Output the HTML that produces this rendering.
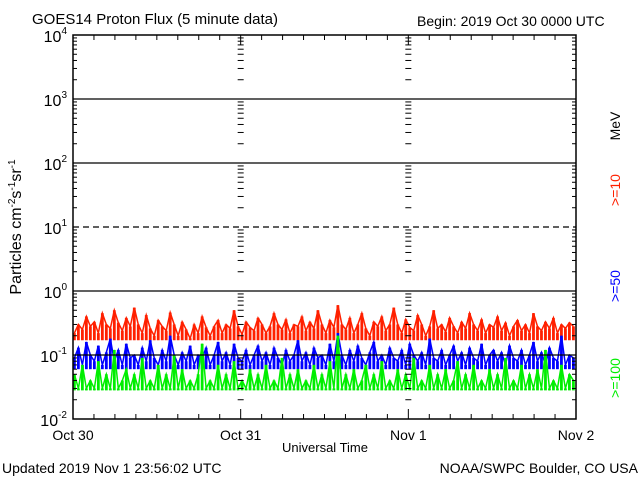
<!DOCTYPE html>
<html><head><meta charset="utf-8"><style>
body{margin:0;background:#fff;width:640px;height:480px;overflow:hidden}
svg text{font-family:"Liberation Sans",sans-serif}
</style></head><body>
<svg id="chart" width="640" height="480" viewBox="0 0 640 480" xmlns="http://www.w3.org/2000/svg">
<rect width="640" height="480" fill="#fff"/>
<text x="32" y="24" font-size="15">GOES14 Proton Flux (5 minute data)</text>
<text x="417" y="26" font-size="14">Begin: 2019 Oct 30 0000 UTC</text>
<text transform="translate(21,227) rotate(-90)" text-anchor="middle" font-size="16">Particles cm<tspan dy="-6" font-size="10">-2</tspan><tspan dy="6">s</tspan><tspan dy="-6" font-size="10">-1</tspan><tspan dy="6">sr</tspan><tspan dy="-6" font-size="10">-1</tspan></text>
<text x="325" y="452" text-anchor="middle" font-size="13">Universal Time</text>
<text x="2" y="473" font-size="14">Updated 2019 Nov  1 23:56:02 UTC</text>
<text x="638" y="473" text-anchor="end" font-size="14">NOAA/SWPC Boulder, CO USA</text>
<text transform="translate(620,126) rotate(-90)" text-anchor="middle" font-size="14">MeV</text>
<text transform="translate(620,190) rotate(-90)" text-anchor="middle" font-size="14" fill="#ff2000">&gt;=10</text>
<text transform="translate(620,286) rotate(-90)" text-anchor="middle" font-size="14" fill="#0000ff">&gt;=50</text>
<text transform="translate(620,378) rotate(-90)" text-anchor="middle" font-size="14" fill="#00ee00">&gt;=100</text>
<g id="grid"></g><g id="series"></g><g id="axes"></g>
</svg>
<script>
const dayLabels=["Oct 30","Oct 31","Nov 1","Nov 2"];
const decadeExps=[-2,-1,0,1,2,3,4];
const seriesFloors=[0.17,0.06,0.028];
const red=[0.22,0.3,0.25,0.4,0.28,0.33,0.22,0.45,0.3,0.26,0.5,0.32,0.24,0.38,0.28,0.55,0.3,0.22,0.42,0.26,0.2,0.35,0.28,0.24,0.46,0.3,0.2,0.33,0.25,0.18,0.3,0.22,0.4,0.27,0.2,0.28,0.35,0.22,0.3,0.26,0.5,0.28,0.21,0.33,0.27,0.24,0.38,0.3,0.22,0.28,0.45,0.3,0.25,0.36,0.22,0.3,0.28,0.4,0.24,0.33,0.26,0.5,0.3,0.22,0.35,0.27,0.6,0.3,0.25,0.38,0.22,0.3,0.45,0.26,0.2,0.33,0.28,0.4,0.24,0.3,0.55,0.3,0.22,0.36,0.27,0.24,0.42,0.3,0.2,0.28,0.5,0.26,0.3,0.23,0.38,0.28,0.22,0.33,0.26,0.45,0.3,0.24,0.36,0.22,0.3,0.27,0.4,0.24,0.32,0.2,0.28,0.35,0.24,0.3,0.22,0.45,0.28,0.24,0.33,0.26,0.38,0.22,0.3,0.26,0.32,0.28];
const blue=[0.09,0.13,0.07,0.16,0.1,0.08,0.14,0.07,0.11,0.18,0.08,0.12,0.07,0.15,0.09,0.1,0.07,0.13,0.08,0.17,0.09,0.07,0.12,0.08,0.2,0.1,0.07,0.11,0.08,0.14,0.07,0.1,0.09,0.13,0.07,0.1,0.16,0.08,0.11,0.07,0.15,0.09,0.08,0.12,0.07,0.1,0.14,0.08,0.11,0.07,0.13,0.09,0.07,0.12,0.08,0.1,0.17,0.08,0.11,0.07,0.13,0.09,0.1,0.07,0.15,0.08,0.22,0.1,0.07,0.12,0.08,0.14,0.09,0.07,0.11,0.16,0.08,0.1,0.07,0.13,0.09,0.08,0.12,0.07,0.15,0.1,0.08,0.11,0.07,0.18,0.09,0.08,0.12,0.07,0.1,0.14,0.08,0.11,0.07,0.13,0.09,0.08,0.15,0.07,0.1,0.12,0.08,0.11,0.07,0.14,0.09,0.08,0.12,0.07,0.1,0.16,0.08,0.11,0.07,0.13,0.09,0.08,0.2,0.07,0.1,0.09];
const green=[0.05,0.03,0.07,0.03,0.04,0.03,0.08,0.03,0.05,0.03,0.12,0.03,0.04,0.06,0.03,0.05,0.03,0.09,0.03,0.04,0.03,0.07,0.03,0.05,0.03,0.1,0.03,0.06,0.03,0.04,0.03,0.05,0.15,0.03,0.04,0.03,0.07,0.03,0.05,0.03,0.08,0.03,0.04,0.03,0.06,0.03,0.05,0.03,0.07,0.03,0.04,0.03,0.09,0.03,0.05,0.03,0.06,0.03,0.04,0.03,0.07,0.03,0.05,0.03,0.08,0.03,0.2,0.03,0.05,0.03,0.06,0.03,0.04,0.07,0.03,0.05,0.03,0.08,0.03,0.04,0.03,0.06,0.03,0.05,0.03,0.09,0.03,0.04,0.03,0.07,0.03,0.05,0.03,0.06,0.03,0.04,0.08,0.03,0.05,0.03,0.07,0.03,0.04,0.03,0.06,0.03,0.05,0.03,0.09,0.03,0.04,0.03,0.07,0.03,0.05,0.03,0.06,0.03,0.12,0.03,0.04,0.03,0.07,0.03,0.05,0.04];
const X0=73,X1=576,Y0=419,PD=64;
const xs=f=>X0+(X1-X0)*f;
const ys=v=>Y0-PD*(Math.log10(v)+2);
const NS="http://www.w3.org/2000/svg";
function mk(tag,attrs,parent){const e=document.createElementNS(NS,tag);for(const k in attrs)e.setAttribute(k,attrs[k]);parent.appendChild(e);return e;}
const grid=document.getElementById('grid'),axes=document.getElementById('axes'),ser=document.getElementById('series');
decadeExps.forEach(ex=>{
  const y=ys(Math.pow(10,ex));
  if(ex>-2&&ex<4){
    const l=mk('line',{x1:X0,x2:X1,y1:y,y2:y,stroke:'#000','stroke-width':1.2},ex===-1?axes:grid);
    if(ex===1)l.setAttribute('stroke-dasharray','6,4');
    
    
  }
  const t=mk('text',{x:X0-6,y:y+7,'text-anchor':'end','font-size':16},axes);
  
  
  t.textContent='10';
  const s=mk('tspan',{dy:-8,'font-size':10},t);s.textContent=String(ex);
});
const tickXs=[X0,xs(1/3),xs(2/3),X1];
for(let ex=-2;ex<4;ex++){
  for(let m=2;m<10;m++){
    const y=ys(m*Math.pow(10,ex));
    tickXs.forEach((x,i)=>{
      const len=4;
      if(i===0)mk('line',{x1:x,x2:x+len,y1:y,y2:y,stroke:'#000'},axes);
      else if(i===3)mk('line',{x1:x-len,x2:x,y1:y,y2:y,stroke:'#000'},axes);
      else mk('line',{x1:x-3,x2:x+3,y1:y,y2:y,stroke:'#000'},axes);
    });
  }
}
for(let h=0;h<=24;h++){
  const x=xs(h/24),len=h%8===0?10:5;
  mk('line',{x1:x,x2:x,y1:Y0,y2:Y0-len,stroke:'#000'},axes);
  mk('line',{x1:x,x2:x,y1:35,y2:35+len,stroke:'#000'},axes);
}
dayLabels.forEach((d,i)=>{
  const t=mk('text',{x:xs(i/3),y:440,'text-anchor':'middle','font-size':14},axes);
  
  
  t.textContent=d;
});
const frame=mk('rect',{x:X0,y:35,width:X1-X0,height:Y0-35,fill:'none',stroke:'#000','stroke-width':1.5},axes);


function drawSeries(arr,floor,color,name){
  const n=arr.length,g=mk('g',{fill:color},ser);
  
  
  const w=(X1-X0)/n;
  arr.forEach((v,i)=>{
    const yt=ys(v),yb=ys(floor);
    mk('rect',{x:xs(i/n),y:Math.min(yt,yb-2),width:w*0.7,height:Math.max(2,yb-yt)},g);
  });
  const pts=arr.map((v,i)=>(xs(i/n)+w*0.35)+','+ys(v));
  mk('polyline',{points:pts.join(' '),fill:'none',stroke:color,'stroke-width':1.5},g);
}
drawSeries(red,seriesFloors[0],'#ff2000','series-ge10');
drawSeries(blue,seriesFloors[1],'#0000ff','series-ge50');
drawSeries(green,seriesFloors[2],'#00ee00','series-ge100');
</script>
</body></html>
